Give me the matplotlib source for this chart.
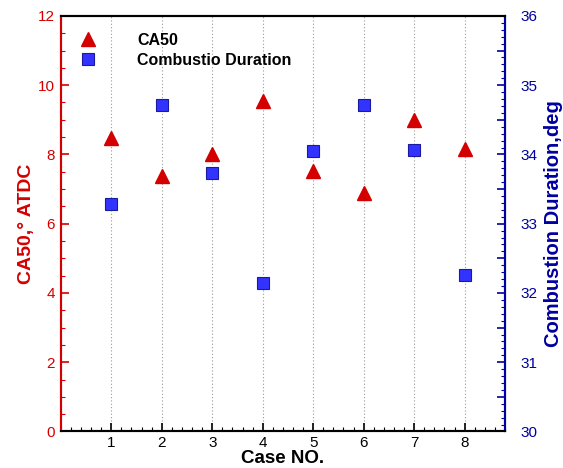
import numpy as np
import matplotlib.pyplot as plt
from matplotlib.ticker import MultipleLocator, FuncFormatter

plt.rcParams['font.family'] = ['Liberation Sans', 'DejaVu Sans']

# data
cases = [1, 2, 3, 4, 5, 6, 7, 8]
ca50 = [8.48, 7.38, 8.01, 9.54, 7.53, 6.88, 9.00, 8.16]
duration = [33.28, 34.71, 33.73, 32.15, 34.05, 34.72, 34.06, 32.26]

red = '#d40000'
blue = '#0000a0'

fig = plt.figure(figsize=(5.63, 4.68), dpi=100)
ax = fig.add_axes([0.108, 0.078, 0.789, 0.888])
ax2 = ax.twinx()

ax.set_xlim(0, 8.8)
ax.set_ylim(0, 12)
ax2.set_ylim(30, 36)

for c in cases:
    ax.axvline(c, color='#999999', linestyle=(0, (1, 2)), linewidth=0.8, zorder=0)

l1, = ax.plot(cases, ca50, linestyle='none', marker='^', markersize=10,
              color=red, markeredgecolor=red, label='CA50', zorder=3)
l2, = ax2.plot(cases, duration, linestyle='none', marker='s', markersize=8.5,
               markerfacecolor='#3333ff', markeredgecolor='#1a1aa0',
               markeredgewidth=0.8, label='Combustio Duration', zorder=3)

ax.xaxis.set_major_locator(MultipleLocator(1))
ax.xaxis.set_minor_locator(MultipleLocator(0.2))
ax.xaxis.set_major_formatter(FuncFormatter(lambda v, p: '%d' % v if 1 <= v <= 8 else ''))
ax.yaxis.set_major_locator(MultipleLocator(2))
ax.yaxis.set_minor_locator(MultipleLocator(0.5))
ax2.yaxis.set_major_locator(MultipleLocator(0.5))
ax2.yaxis.set_minor_locator(MultipleLocator(0.1))
ax2.yaxis.set_major_formatter(FuncFormatter(lambda v, p: '%d' % v if abs(v - round(v)) < 1e-6 else ''))

ax.tick_params(axis='x', which='major', direction='in', length=6, width=1.2,
               labelsize=11, colors='black', pad=3)
ax.tick_params(axis='x', which='minor', direction='in', length=3, width=0.8)
ax.tick_params(axis='y', which='major', direction='in', length=6, width=1.2,
               labelsize=11, colors=red, pad=4)
ax.tick_params(axis='y', which='minor', direction='in', length=3, width=0.8, colors=red)
ax2.tick_params(axis='y', which='major', direction='in', length=6, width=1.2,
                labelsize=11, colors=blue, pad=11)
ax2.tick_params(axis='y', which='minor', direction='in', length=3, width=0.8, colors=blue)

for a in (ax, ax2):
    a.spines['left'].set_color(red)
    a.spines['right'].set_color(blue)
    a.spines['top'].set_color('black')
    a.spines['bottom'].set_color('black')
    for s in a.spines.values():
        s.set_linewidth(1.5)

ax.set_xlabel('Case NO.', fontsize=13.5, fontweight='bold', labelpad=0)
ax.set_ylabel('CA50,° ATDC', fontsize=14, fontweight='bold', color=red, labelpad=2)
ax2.set_ylabel('Combustion Duration,deg', fontsize=14.5, fontweight='bold', color=blue, labelpad=5)

leg = ax.legend(handles=[l1, l2], loc='upper left', bbox_to_anchor=(0.01, 0.994),
                frameon=False, handletextpad=2.6, labelspacing=0.32,
                prop={'size': 11.5, 'weight': 'bold'}, handlelength=1.0)

fig.savefig('out.png', dpi=100)
